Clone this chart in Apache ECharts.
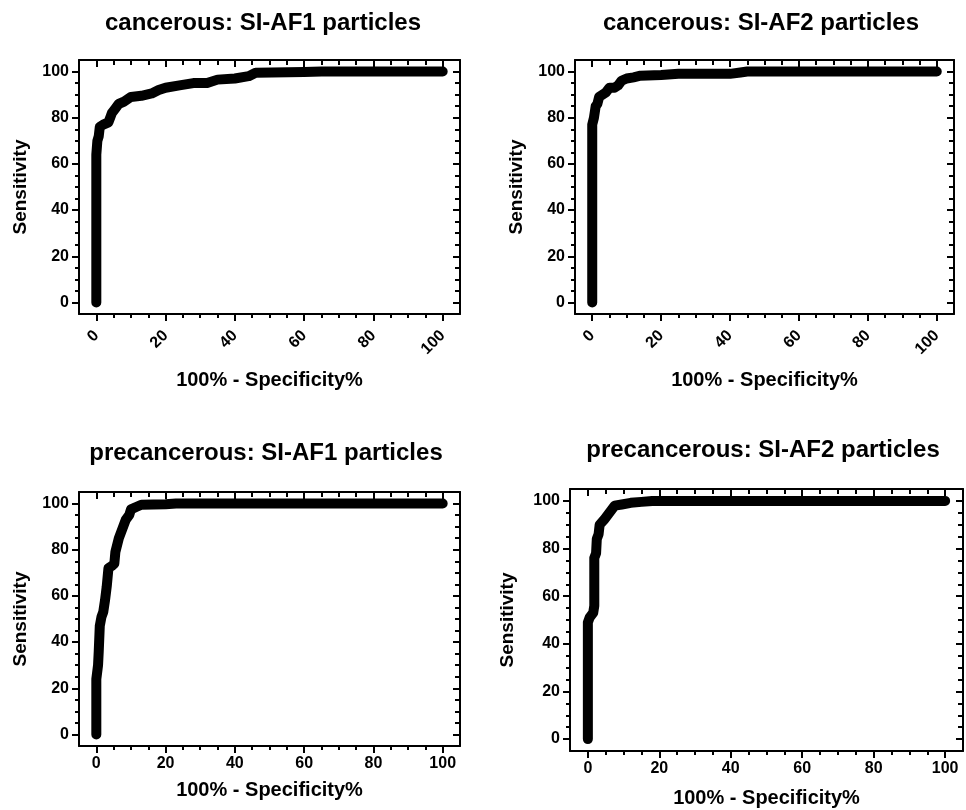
<!DOCTYPE html>
<html>
<head>
<meta charset="utf-8">
<script src="https://cdn.jsdelivr.net/npm/echarts@6/dist/echarts.min.js"></script>
<style>
html,body{margin:0;padding:0;background:#fff;}
#chart{width:966px;height:810px;}
</style>
</head>
<body>
<div id="chart"></div>
<script>
// ---- data (100% - Specificity%, Sensitivity%) ----
const titles = [
  'cancerous: SI-AF1 particles',
  'cancerous: SI-AF2 particles',
  'precancerous: SI-AF1 particles',
  'precancerous: SI-AF2 particles'
];
const cancerAF1_x = [0,0,0.3,0.7,1,2,3.5,4,4.5,5.5,6.5,8,10,13,16,18,20,24,28,32,35,40,44,46,60,65,100];
const cancerAF1_y = [0,64,70,72,76,77,78,80,82,84,86,87,89,89.5,90.5,92,93,94,95,95,96.5,97,98,99.5,99.8,100,100];
const cancerAF2_x = [0,0,0.5,1,1.5,2,3,4,5,6.5,7.5,8.5,10,12,14,20,25,40,43,45,100];
const cancerAF2_y = [0,77,80,85,86,89,90,91,93,93,94,96,97,97.5,98.2,98.5,99,99,99.6,100,100];
const precAF1_x = [0,0,0.5,0.7,1,1.5,2,2.5,3,3.5,4.5,5.2,5.5,6.5,7.5,8.5,9.5,10,11.5,13,20,23,100];
const precAF1_y = [0,24,30,36,47,51,53,58,64,72,73,74,79,85,89,93,95,97.5,98.5,99.5,99.7,100,100];
const precAF2_x = [0,0,0.5,1.5,1.8,1.8,2.3,2.5,3,3.3,4.5,5.5,6.5,7.5,9.5,12,15,18,100];
const precAF2_y = [0,49,51,53,56,76,78,84,86,90,92,94,96,98,98.5,99.2,99.6,100,100];
const seriesX = [cancerAF1_x, cancerAF2_x, precAF1_x, precAF2_x];
const seriesY = [cancerAF1_y, cancerAF2_y, precAF1_y, precAF2_y];
const majorTicks = [0,20,40,60,80,100];
const minorTicks = [5,10,15,25,30,35,45,50,55,65,70,75,85,90,95];
const xName = '100% - Specificity%';
const yName = 'Sensitivity';

// ---- layout ----
const FONT = "'Liberation Sans', Arial, Helvetica, sans-serif";
const grids = [
  {left:79, top:60, width:381, height:254},
  {left:575, top:60, width:379, height:254},
  {left:79, top:492, width:381, height:254},
  {left:570, top:489, width:393, height:262}
];
const titlePos = [[263,23],[761,23],[266,453],[763,450]];
const rotations = [45,45,0,0];
const labelMargins = [19,19,10,10];
const xNameGaps = [56,56,34,37];
const yNameGaps = [49,49,49,53];

const xAxes = [], yAxes = [], series = [], graphics = [];
const lineSt = {color:'#000', width:2};

grids.forEach((g,i)=>{
  const base = {type:'value', min:-5, max:105, gridIndex:i, splitLine:{show:false}};
  xAxes.push(Object.assign({}, base, {
    position:'bottom',
    axisLine:{show:true, onZero:false, lineStyle:lineSt},
    axisTick:{show:true, customValues:majorTicks, length:7, lineStyle:lineSt},
    axisLabel:{show:true, customValues:majorTicks, rotate:rotations[i], margin:labelMargins[i],
      fontSize:16, fontWeight:'bold', color:'#000', fontFamily:FONT},
    name:xName, nameLocation:'middle', nameGap:xNameGaps[i],
    nameTextStyle:{fontSize:20, fontWeight:'bold', color:'#000', fontFamily:FONT}
  }));
  xAxes.push(Object.assign({}, base, {
    position:'bottom',
    axisLine:{show:false, onZero:false},
    axisTick:{show:true, customValues:minorTicks, length:4, lineStyle:lineSt},
    axisLabel:{show:false}
  }));
  xAxes.push(Object.assign({}, base, {
    position:'top',
    axisLine:{show:true, onZero:false, lineStyle:lineSt},
    axisTick:{show:true, inside:true, customValues:majorTicks, length:7, lineStyle:lineSt},
    axisLabel:{show:false}
  }));
  xAxes.push(Object.assign({}, base, {
    position:'top',
    axisLine:{show:false, onZero:false},
    axisTick:{show:true, inside:true, customValues:minorTicks, length:5, lineStyle:lineSt},
    axisLabel:{show:false}
  }));
  yAxes.push(Object.assign({}, base, {
    position:'left',
    axisLine:{show:true, onZero:false, lineStyle:lineSt},
    axisTick:{show:true, customValues:majorTicks, length:7, lineStyle:lineSt},
    axisLabel:{show:true, customValues:majorTicks, margin:10,
      fontSize:16, fontWeight:'bold', color:'#000', fontFamily:FONT},
    name:yName, nameLocation:'middle', nameGap:yNameGaps[i],
    nameTextStyle:{fontSize:19, fontWeight:'bold', color:'#000', fontFamily:FONT}
  }));
  yAxes.push(Object.assign({}, base, {
    position:'left',
    axisLine:{show:false, onZero:false},
    axisTick:{show:true, customValues:minorTicks, length:4, lineStyle:lineSt},
    axisLabel:{show:false}
  }));
  yAxes.push(Object.assign({}, base, {
    position:'right',
    axisLine:{show:true, onZero:false, lineStyle:lineSt},
    axisTick:{show:true, inside:true, customValues:majorTicks, length:7, lineStyle:lineSt},
    axisLabel:{show:false}
  }));
  yAxes.push(Object.assign({}, base, {
    position:'right',
    axisLine:{show:false, onZero:false},
    axisTick:{show:true, inside:true, customValues:minorTicks, length:5, lineStyle:lineSt},
    axisLabel:{show:false}
  }));

  series.push({
    type:'line',
    xAxisIndex:i*4, yAxisIndex:i*4,
    data: seriesX[i].map((x,k)=>[x, seriesY[i][k]]),
    showSymbol:false, symbol:'none', smooth:false, clip:false,
    lineStyle:{color:'#000', width:10, cap:'round', join:'round'},
    animation:false
  });

  graphics.push({
    type:'text', x:titlePos[i][0], y:titlePos[i][1],
    style:{text:titles[i], fill:'#000', textAlign:'center', textVerticalAlign:'middle',
      font:"bold 24px " + FONT}
  });
});

const chart = echarts.init(document.getElementById('chart'), null, {renderer:'canvas'});
chart.setOption({
  backgroundColor:'#fff',
  animation:false,
  grid: grids.map(g=>Object.assign({containLabel:false}, g)),
  xAxis: xAxes,
  yAxis: yAxes,
  series: series,
  graphic: graphics
});
</script>
</body>
</html>
